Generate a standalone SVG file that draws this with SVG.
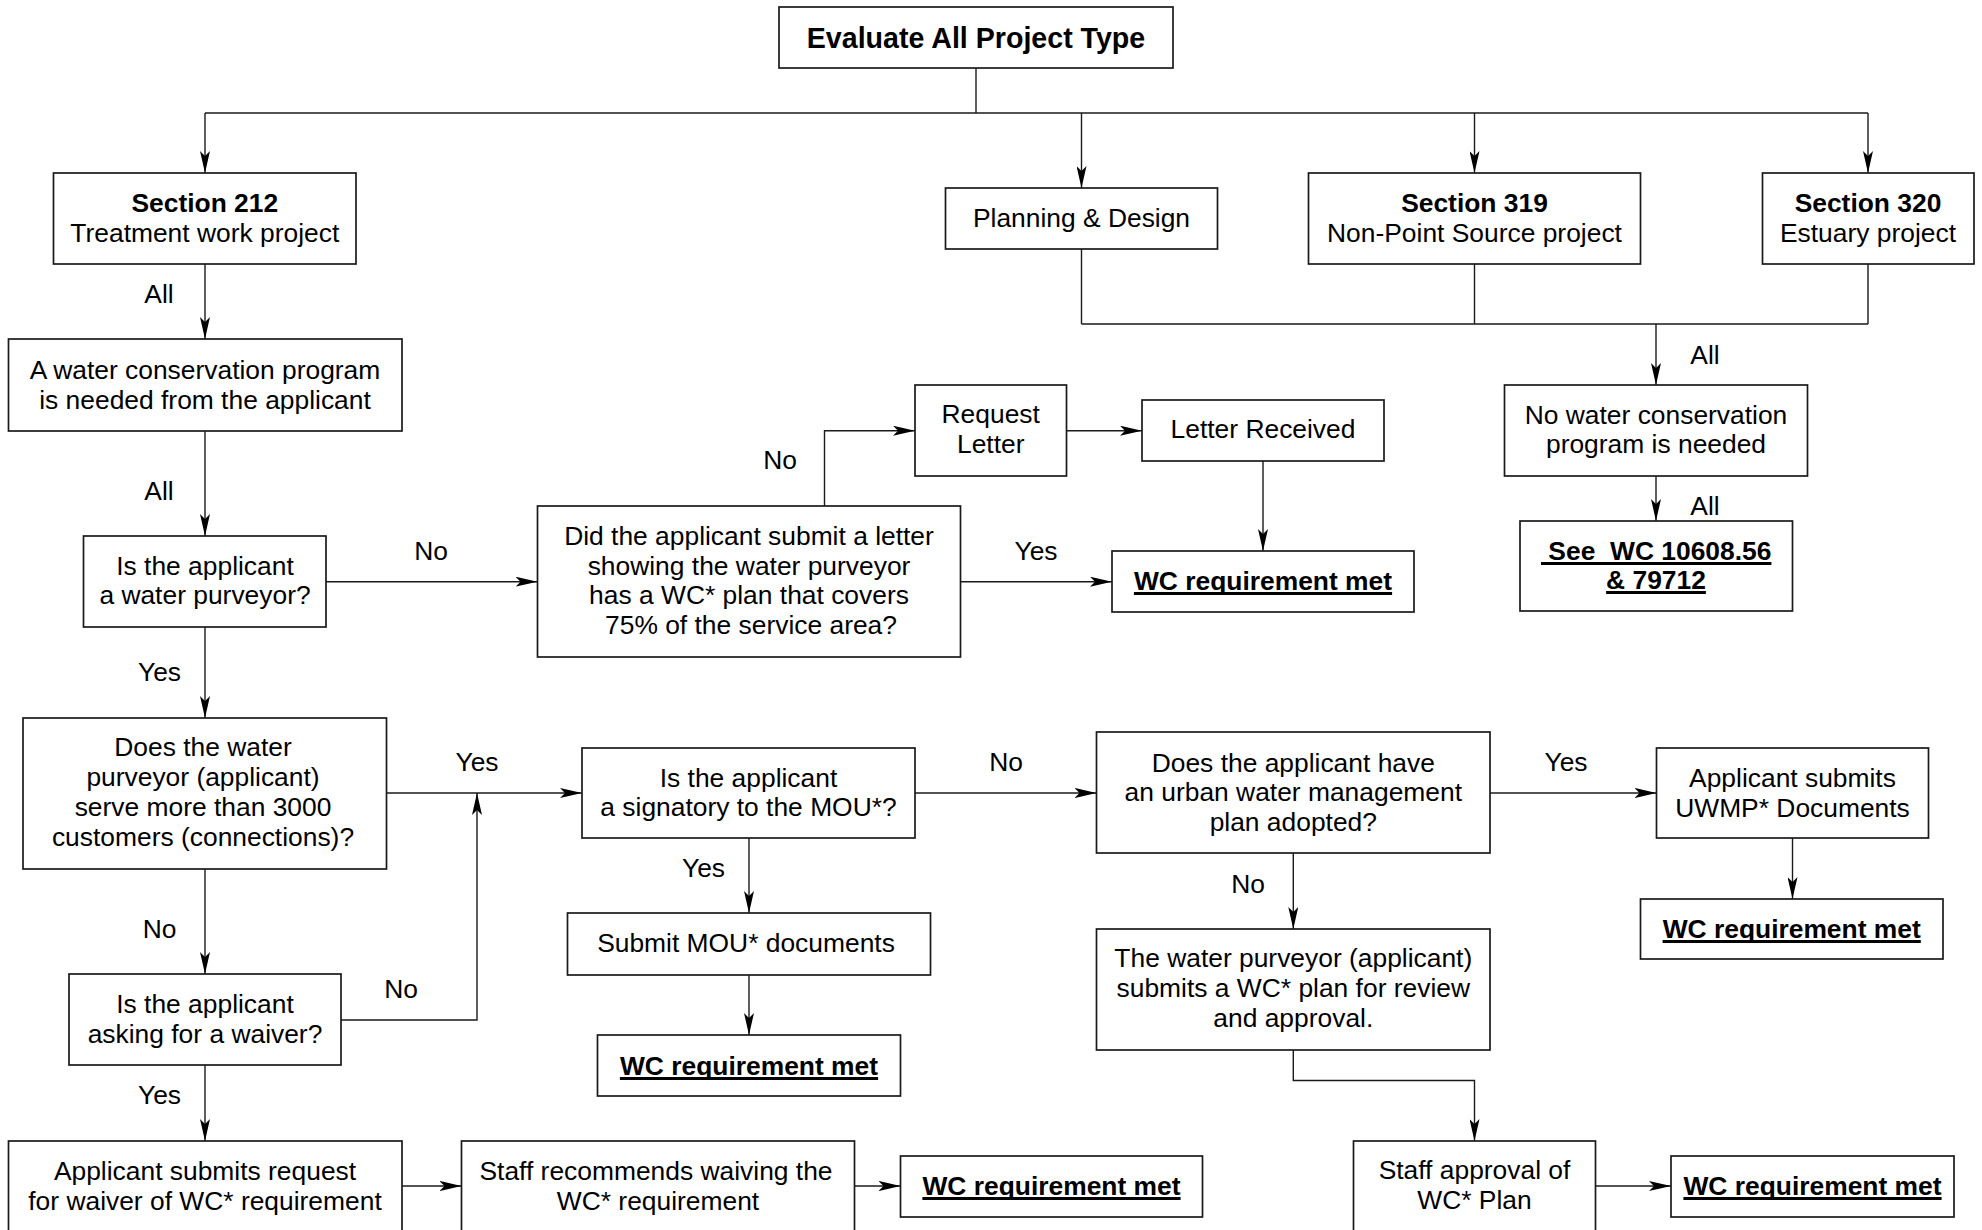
<svg xmlns="http://www.w3.org/2000/svg" width="1982" height="1230" viewBox="0 0 1982 1230">
<style>
  .box { fill: #ffffff; stroke: #1a1a1a; stroke-width: 1.7; }
  .t { font-family: "Liberation Sans", Arial, sans-serif; font-size: 26.4px; fill: #000; text-anchor: middle; }
  .b { font-weight: bold; }
  .title { font-size: 28.6px; }
  .lbl { font-family: "Liberation Sans", Arial, sans-serif; font-size: 26.4px; fill: #000; text-anchor: middle; }
  .ul { stroke: #000; stroke-width: 3; }
  .c { fill: none; stroke: #1a1a1a; stroke-width: 1.4; }
  .a { marker-end: url(#arr); }
</style>
<defs>
  <marker id="arr" viewBox="0 0 22 10" refX="22" refY="5" markerWidth="22" markerHeight="10" orient="auto" markerUnits="userSpaceOnUse">
    <path d="M0,0 L22,5 L0,10 L5,5 Z" fill="#000"/>
  </marker>
</defs>
<rect width="1982" height="1230" fill="#ffffff"/>

<g id="connectors">
  <path class="c" d="M976,68 V113"/>
  <path class="c" d="M205,113 H1868"/>
  <path class="c a" d="M205,113 V173"/>
  <path class="c a" d="M1081.5,113 V188"/>
  <path class="c a" d="M1474.5,113 V173"/>
  <path class="c a" d="M1868,113 V173"/>
  <path class="c a" d="M205,264 V339"/>
  <path class="c a" d="M205,431 V536"/>
  <path class="c a" d="M326,581.7 H537.5"/>
  <path class="c a" d="M824.5,506 V430.7 H915"/>
  <path class="c a" d="M1066.5,430.7 H1142"/>
  <path class="c a" d="M1263,461 V551"/>
  <path class="c a" d="M960.5,581.7 H1112"/>
  <path class="c" d="M1081.5,249 V324 M1474.5,264 V324 M1868,264 V324 M1081.5,324 H1868"/>
  <path class="c a" d="M1656,324 V385"/>
  <path class="c a" d="M1656,476 V521"/>
  <path class="c a" d="M205,627 V718"/>
  <path class="c a" d="M386.5,793 H582"/>
  <path class="c a" d="M205,869 V974"/>
  <path class="c a" d="M341,1020 H477 V793"/>
  <path class="c a" d="M915,793 H1096.5"/>
  <path class="c a" d="M1490,793 H1656.5"/>
  <path class="c a" d="M1792.5,838 V899"/>
  <path class="c a" d="M749,838 V913"/>
  <path class="c a" d="M749,975 V1035"/>
  <path class="c a" d="M1293.3,853 V929"/>
  <path class="c a" d="M1293.3,1050 V1080.5 H1474.5 V1141"/>
  <path class="c a" d="M205,1065 V1141"/>
  <path class="c a" d="M402,1186 H461.5"/>
  <path class="c a" d="M855,1186 H900.5"/>
  <path class="c a" d="M1595.5,1186 H1671"/>

  <text class="lbl" x="159" y="303">All</text>
  <text class="lbl" x="159" y="500">All</text>
  <text class="lbl" x="1705" y="364">All</text>
  <text class="lbl" x="1705" y="515">All</text>
  <text class="lbl" x="431" y="560">No</text>
  <text class="lbl" x="780" y="469">No</text>
  <text class="lbl" x="1036" y="560">Yes</text>
  <text class="lbl" x="159.5" y="681">Yes</text>
  <text class="lbl" x="477" y="771">Yes</text>
  <text class="lbl" x="1006" y="771">No</text>
  <text class="lbl" x="1566" y="771">Yes</text>
  <text class="lbl" x="703.5" y="876.5">Yes</text>
  <text class="lbl" x="159.5" y="938">No</text>
  <text class="lbl" x="401" y="997.5">No</text>
  <text class="lbl" x="159.5" y="1104">Yes</text>
  <text class="lbl" x="1248" y="893">No</text>
</g>

<g id="n-title">
  <rect class="box" x="779" y="7" width="394" height="61"/>
  <text class="t b title" x="976" y="48">Evaluate All Project Type</text>
</g>
<g id="n-s212">
  <rect class="box" x="53.5" y="173" width="302.5" height="91"/>
  <text class="t b" x="204.8" y="212">Section 212</text>
  <text class="t" x="204.8" y="242">Treatment work project</text>
</g>
<g id="n-plan">
  <rect class="box" x="945.5" y="188" width="272" height="61"/>
  <text class="t" x="1081.5" y="227">Planning &amp; Design</text>
</g>
<g id="n-s319">
  <rect class="box" x="1308.5" y="173" width="332" height="91"/>
  <text class="t b" x="1474.5" y="212">Section 319</text>
  <text class="t" x="1474.5" y="242">Non-Point Source project</text>
</g>
<g id="n-s320">
  <rect class="box" x="1762.5" y="173" width="211.5" height="91"/>
  <text class="t b" x="1868" y="212">Section 320</text>
  <text class="t" x="1868" y="242">Estuary project</text>
</g>
<g id="n-wcprog">
  <rect class="box" x="8.5" y="339" width="393.5" height="92"/>
  <text class="t" x="205" y="379">A water conservation program</text>
  <text class="t" x="205" y="409">is needed from the applicant</text>
</g>
<g id="n-purveyor">
  <rect class="box" x="83.5" y="536" width="242.5" height="91"/>
  <text class="t" x="205" y="575">Is the applicant</text>
  <text class="t" x="205" y="604">a water purveyor?</text>
</g>
<g id="n-letter">
  <rect class="box" x="537.5" y="506" width="423" height="151"/>
  <text class="t" x="749" y="545">Did the applicant submit a letter</text>
  <text class="t" x="749" y="575">showing the water purveyor</text>
  <text class="t" x="749" y="604">has a WC* plan that covers</text>
  <text class="t" x="751" y="634">75% of the service area?</text>
</g>
<g id="n-request">
  <rect class="box" x="915" y="385" width="151.5" height="91"/>
  <text class="t" x="990.7" y="423">Request</text>
  <text class="t" x="990.7" y="453">Letter</text>
</g>
<g id="n-received">
  <rect class="box" x="1142" y="400" width="242" height="61"/>
  <text class="t" x="1263" y="438">Letter Received</text>
</g>
<g id="n-wcmet1">
  <rect class="box" x="1112" y="551" width="302" height="61"/>
  <text class="t b" x="1263" y="590">WC requirement met</text>
  <line class="ul" x1="1133.9" y1="593.5" x2="1392.1" y2="593.5"/>
</g>
<g id="n-nowc">
  <rect class="box" x="1504.5" y="385" width="303" height="91"/>
  <text class="t" x="1656" y="424">No water conservation</text>
  <text class="t" x="1656" y="453">program is needed</text>
</g>
<g id="n-seewc">
  <rect class="box" x="1520" y="521" width="272.5" height="90"/>
  <text class="t b" x="1656.2" y="560" xml:space="preserve"> See  WC 10608.56</text>
  <line class="ul" x1="1541" y1="563.5" x2="1771.4" y2="563.5"/>
  <text class="t b" x="1656" y="589">&amp; 79712</text>
  <line class="ul" x1="1606.1" y1="592.5" x2="1705.9" y2="592.5"/>
</g>
<g id="n-doeswater">
  <rect class="box" x="23" y="718" width="363.5" height="151"/>
  <text class="t" x="203" y="756">Does the water</text>
  <text class="t" x="203" y="786">purveyor (applicant)</text>
  <text class="t" x="203" y="816">serve more than 3000</text>
  <text class="t" x="203" y="846">customers (connections)?</text>
</g>
<g id="n-mou">
  <rect class="box" x="582" y="748" width="333" height="90"/>
  <text class="t" x="748.5" y="786.5">Is the applicant</text>
  <text class="t" x="748.5" y="816">a signatory to the MOU*?</text>
</g>
<g id="n-urban">
  <rect class="box" x="1096.5" y="732" width="393.5" height="121"/>
  <text class="t" x="1293.3" y="771.5">Does the applicant have</text>
  <text class="t" x="1293.3" y="801">an urban water management</text>
  <text class="t" x="1293.3" y="830.5">plan adopted?</text>
</g>
<g id="n-uwmp">
  <rect class="box" x="1656.5" y="748" width="272" height="90"/>
  <text class="t" x="1792.5" y="786.5">Applicant submits</text>
  <text class="t" x="1792.5" y="816.5">UWMP* Documents</text>
</g>
<g id="n-submitmou">
  <rect class="box" x="567.5" y="913" width="363" height="62"/>
  <text class="t" x="746" y="952">Submit MOU* documents</text>
</g>
<g id="n-wcmet-mou">
  <rect class="box" x="597.5" y="1035" width="303" height="61"/>
  <text class="t b" x="749" y="1075">WC requirement met</text>
  <line class="ul" x1="619.9" y1="1078.5" x2="878.1" y2="1078.5"/>
</g>
<g id="n-wcmet-uwmp">
  <rect class="box" x="1640.5" y="899" width="302.5" height="60"/>
  <text class="t b" x="1791.7" y="938">WC requirement met</text>
  <line class="ul" x1="1662.6" y1="941.5" x2="1920.8" y2="941.5"/>
</g>
<g id="n-wcplan">
  <rect class="box" x="1096.5" y="929" width="393.5" height="121"/>
  <text class="t" x="1293.3" y="967">The water purveyor (applicant)</text>
  <text class="t" x="1293.3" y="997">submits a WC* plan for review</text>
  <text class="t" x="1293.3" y="1027">and approval.</text>
</g>
<g id="n-waiver">
  <rect class="box" x="69" y="974" width="272" height="91"/>
  <text class="t" x="205" y="1013">Is the applicant</text>
  <text class="t" x="205" y="1043">asking for a waiver?</text>
</g>
<g id="n-waiverreq">
  <rect class="box" x="8.5" y="1141" width="393.5" height="100"/>
  <text class="t" x="205" y="1180">Applicant submits request</text>
  <text class="t" x="205" y="1210">for waiver of WC* requirement</text>
</g>
<g id="n-staffrec">
  <rect class="box" x="461.5" y="1141" width="393" height="100"/>
  <text class="t" x="656" y="1180">Staff recommends waiving the</text>
  <text class="t" x="658" y="1210">WC* requirement</text>
</g>
<g id="n-wcmet-waiver">
  <rect class="box" x="900.5" y="1156" width="302" height="61"/>
  <text class="t b" x="1051.5" y="1195">WC requirement met</text>
  <line class="ul" x1="922.4" y1="1198.5" x2="1180.6" y2="1198.5"/>
</g>
<g id="n-staffapp">
  <rect class="box" x="1353.5" y="1141" width="242" height="100"/>
  <text class="t" x="1474.5" y="1179">Staff approval of</text>
  <text class="t" x="1474.5" y="1209">WC* Plan</text>
</g>
<g id="n-wcmet-plan">
  <rect class="box" x="1671" y="1156" width="283" height="61"/>
  <text class="t b" x="1812.5" y="1195">WC requirement met</text>
  <line class="ul" x1="1683.4" y1="1198.5" x2="1941.6" y2="1198.5"/>
</g>
</svg>
